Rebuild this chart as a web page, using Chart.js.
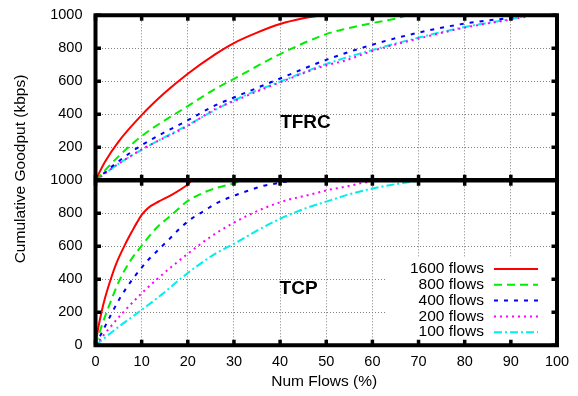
<!DOCTYPE html>
<html><head><meta charset="utf-8">
<script src="https://cdn.jsdelivr.net/npm/chart.js@4/dist/chart.umd.min.js"></script>
<style>html,body{margin:0;padding:0;background:#fff}#wrap{width:578px;height:396px;position:relative}</style>
</head><body><div id="wrap"><canvas id="c" width="578" height="396"></canvas></div>
<script>
// ---------- data ----------
const seriesLabels = ['1600 flows', '800 flows', '400 flows', '200 flows', '100 flows'];
const panelTitles = ['TFRC', 'TCP'];
const xTitle = 'Num Flows (%)';
const yTitle = 'Cumulative Goodput (kbps)';
const xTickValues = [0, 10, 20, 30, 40, 50, 60, 70, 80, 90, 100];
const yTickValues = [0, 200, 400, 600, 800, 1000];

// TFRC panel: [Num Flows %, Cumulative Goodput kbps]
const tfrc1600 = [[0,0],[2,110],[5,235],[10,395],[15,530],[20,646],[26,765],[30,832],[35,895],[40,947],[45,982],[48,996],[50,1000],[100,1000]];
const tfrc800  = [[0,0],[5,145],[10,268],[20,450],[26,555],[30,615],[40,765],[50,886],[54,917],[60,953],[65,980],[68,1000],[100,1000]];
const tfrc400  = [[0,0],[5,115],[10,213],[20,364],[26,455],[30,502],[40,617],[50,730],[60,822],[70,895],[80,950],[90,986],[93,1000],[100,1000]];
const tfrc200  = [[0,0],[5,100],[10,187],[20,330],[26,433],[30,480],[40,594],[50,697],[54,725],[60,784],[70,859],[80,925],[90,974],[96,1000],[100,1000]];
const tfrc100  = [[0,0],[5,100],[10,185],[20,335],[30,485],[40,598],[50,705],[60,790],[70,865],[80,929],[90,977],[95,1000],[100,1000]];

// TCP panel
const tcp1600 = [[0,0],[0.5,90],[1.3,200],[2,280],[3.3,400],[4.5,495],[6.4,610],[8,695],[9,745],[10,790],[11,822],[12,845],[13.6,870],[16.5,912],[20,975],[21,1000],[100,1000]];
const tcp800  = [[0,0],[1,90],[2.4,200],[5.3,400],[7.5,510],[9.9,600],[13,705],[16.9,800],[20,875],[23,920],[26,952],[30,982],[32,1000],[100,1000]];
const tcp400  = [[0,0],[1.7,95],[5.3,286],[8.2,407],[9.9,467],[11.4,517],[13.6,578],[15.8,638],[18.7,719],[20.9,769],[23.8,819],[26,858],[31,917],[33.5,941],[36,964],[38.5,978],[42,995],[44,1000],[100,1000]];
const tcp200  = [[0,0],[2,70],[6,200],[10,315],[13.3,400],[20,555],[26,677],[33,787],[40,867],[47,917],[51,945],[54,960],[58,985],[62,1000],[100,1000]];
const tcp100  = [[0,0],[2,45],[5,112],[9.3,200],[14,300],[18.3,400],[22,480],[26,556],[30,615],[35,695],[40,767],[45,825],[51,880],[55,915],[60,950],[67,985],[72,1000],[100,1000]];

const tfrcSeries = [tfrc1600, tfrc800, tfrc400, tfrc200, tfrc100];
const tcpSeries = [tcp1600, tcp800, tcp400, tcp200, tcp100];

// ---------- styles ----------
const colors = ['#ff0000', '#00ee00', '#0000ff', '#ff00ff', '#00eeee'];
const dashes = [[], [8, 5], [4, 6], [2, 4], [8, 3, 2, 3]];
const FONT = '"Liberation Sans", Arial, Helvetica, sans-serif';

function toPts(arr) { return arr.map(p => ({x: p[0], y: p[1]})); }
function makeDs(arr, i, axis) {
  return {
    label: seriesLabels[i],
    data: toPts(arr),
    yAxisID: axis,
    borderColor: colors[i],
    backgroundColor: colors[i],
    borderDash: dashes[i],
    borderWidth: 2,
    pointRadius: 0,
    fill: false,
    cubicInterpolationMode: 'monotone'
  };
}
const datasets = [];
tfrcSeries.forEach((s, i) => datasets.push(makeDs(s, i, 'yTop')));
tcpSeries.forEach((s, i) => datasets.push(makeDs(s, i, 'yBot')));

const gridCfg = {color: '#808080', lineWidth: 1, drawTicks: false};
const borderCfg = {display: false, dash: [1, 2]};
const tickFont = {family: FONT, size: 14.5};

function yAxis(showZero) {
  return {
    type: 'linear', position: 'left', stack: 'panels', stackWeight: 1,
    min: 0, max: 1000,
    afterBuildTicks: s => { s.ticks = yTickValues.map(v => ({value: v})); },
    ticks: {
      color: '#000', font: tickFont, padding: 13, autoSkip: false,
      callback: v => (v === 0 && !showZero) ? '' : String(v)
    },
    grid: gridCfg, border: borderCfg,
    afterFit: s => { s.width = 95.5; s.paddingTop = 0; s.paddingBottom = 0; }
  };
}

const legendBox = {
  id: 'legendBox',
  afterDatasetsDraw(chart) {
    const ctx = chart.ctx, ca = chart.chartArea;
    ctx.save();
    ctx.fillStyle = '#fff';
    ctx.fillRect(ca.right - 171, 258, 171, ca.bottom - 258);
    ctx.font = '15.5px ' + FONT;
    ctx.textAlign = 'right';
    ctx.textBaseline = 'middle';
    for (let i = 0; i < seriesLabels.length; i++) {
      const yy = 269 + i * 15.8;
      ctx.fillStyle = '#000';
      ctx.fillText(seriesLabels[i], ca.right - 73, yy);
      ctx.beginPath();
      ctx.setLineDash(dashes[i]);
      ctx.strokeStyle = colors[i];
      ctx.lineWidth = 2;
      ctx.moveTo(ca.right - 63, yy);
      ctx.lineTo(ca.right - 19, yy);
      ctx.stroke();
    }
    ctx.restore();
  }
};

const frame = {
  id: 'frame',
  afterDraw(chart) {
    const ctx = chart.ctx, ca = chart.chartArea;
    const xs = chart.scales.x, yT = chart.scales.yTop, yB = chart.scales.yBot;
    const sep = Math.min(yT.bottom, yB.bottom);
    ctx.save();
    ctx.setLineDash([]);
    ctx.strokeStyle = '#000000';
    ctx.lineWidth = 3.5;
    const tl = 5.5;
    ctx.beginPath();
    xTickValues.forEach(v => {
      const px = xs.getPixelForValue(v);
      ctx.moveTo(px, ca.top); ctx.lineTo(px, ca.top + tl);
      ctx.moveTo(px, sep - tl); ctx.lineTo(px, sep + tl);
      ctx.moveTo(px, ca.bottom); ctx.lineTo(px, ca.bottom - tl);
    });
    [yT, yB].forEach(ys => {
      yTickValues.forEach(v => {
        const py = ys.getPixelForValue(v);
        ctx.moveTo(ca.left, py); ctx.lineTo(ca.left + tl, py);
        ctx.moveTo(ca.right, py); ctx.lineTo(ca.right - tl, py);
      });
    });
    ctx.stroke();
    ctx.lineWidth = 4;
    ctx.beginPath();
    ctx.rect(ca.left, ca.top, ca.right - ca.left, ca.bottom - ca.top);
    ctx.stroke();
    ctx.lineWidth = 4.5;
    ctx.beginPath();
    ctx.moveTo(ca.left, sep); ctx.lineTo(ca.right, sep);
    ctx.stroke();
    ctx.fillStyle = '#000';
    ctx.textAlign = 'center';
    ctx.textBaseline = 'middle';
    ctx.font = 'bold 19px ' + FONT;
    ctx.fillText(panelTitles[0], xs.getPixelForValue(45.5), yT.getPixelForValue(350));
    ctx.fillText(panelTitles[1], xs.getPixelForValue(44), yB.getPixelForValue(345));
    ctx.font = '15.5px ' + FONT;
    ctx.fillText(xTitle, (ca.left + ca.right) / 2 - 2, 382);
    ctx.translate(21, 169);
    ctx.rotate(-Math.PI / 2);
    ctx.fillText(yTitle, 0, 0);
    ctx.restore();
  }
};

new Chart(document.getElementById('c'), {
  type: 'line',
  data: {datasets},
  plugins: [legendBox, frame],
  options: {
    responsive: false,
    devicePixelRatio: 1,
    animation: false,
    layout: {padding: {left: 0, right: 21, top: 15.3, bottom: 0}},
    plugins: {legend: {display: false}, tooltip: {enabled: false}},
    scales: {
      x: {
        type: 'linear', min: 0, max: 100,
        afterBuildTicks: s => { s.ticks = xTickValues.map(v => ({value: v})); },
        ticks: {color: '#000', font: tickFont, padding: 8, maxRotation: 0, autoSkip: false},
        grid: gridCfg, border: borderCfg,
        afterFit: s => { s.height = 50.7; s.paddingLeft = 0; s.paddingRight = 0; }
      },
      yBot: yAxis(true),
      yTop: yAxis(false)
    }
  }
});
</script>
</body></html>
